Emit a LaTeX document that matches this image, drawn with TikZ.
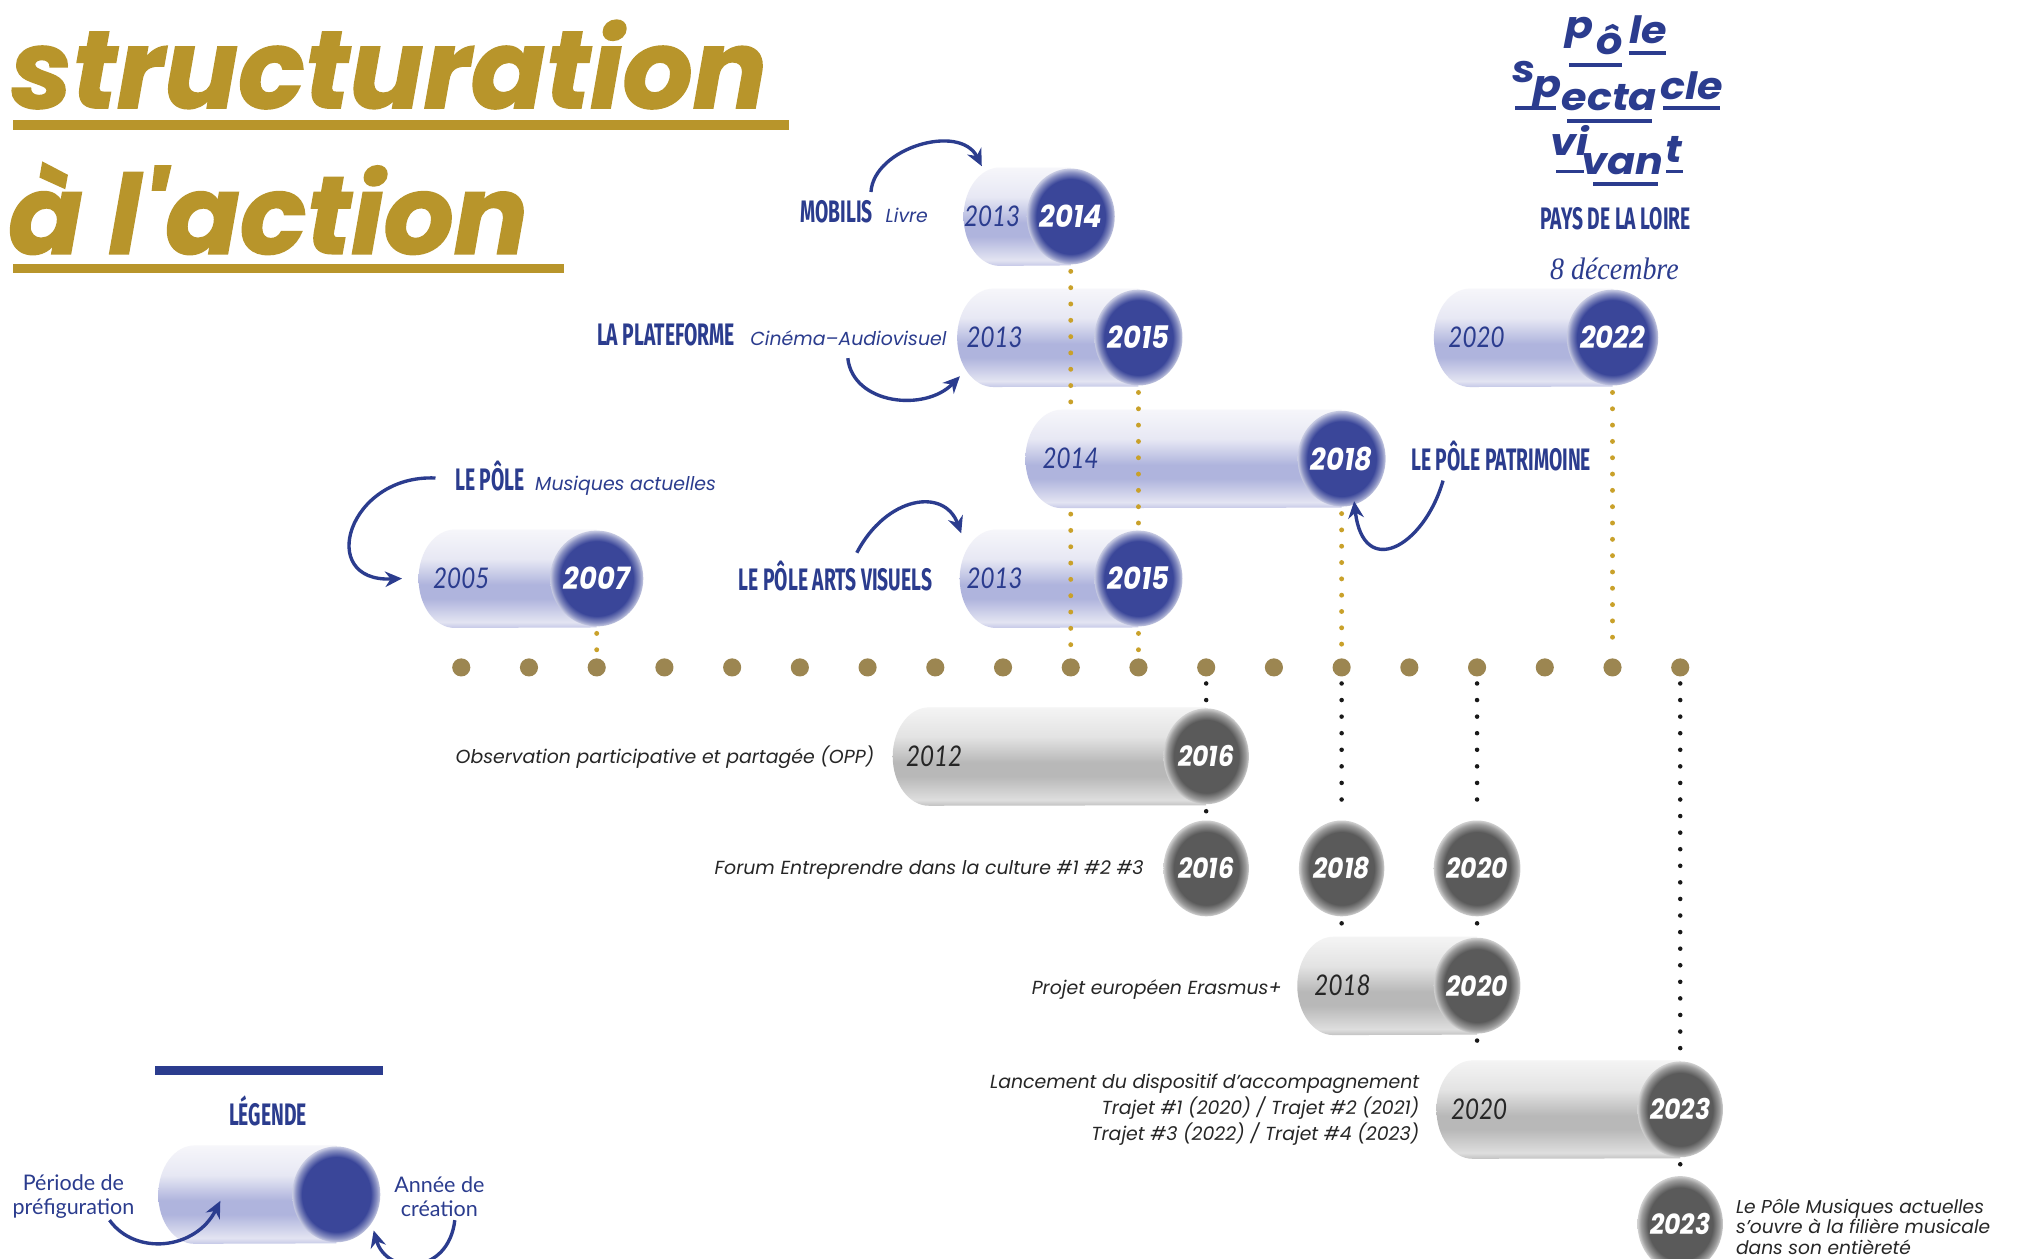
\documentclass[tikz,border=0pt]{standalone}
\usepackage{fontspec}
\setmainfont{Lato}
\newfontfamily\titlefont{Poppins}[FakeBold=1.3]
\newfontfamily\logofont{Poppins}[FakeStretch=1.1]
\newfontfamily\headfont{Fira Sans}[FakeStretch=0.62]
\newfontfamily\yrbold{Poppins}[FakeStretch=0.88]
\newfontfamily\yrlight{Lato}[FakeStretch=0.85]
\newfontfamily\descfont{Poppins}
\newfontfamily\legfont{Lato}
\newfontfamily\serifit{Liberation Serif}[FakeStretch=0.9]
\usetikzlibrary{shapes.geometric,arrows.meta}

\definecolor{cblue}{HTML}{2B3C8E}
\definecolor{ccirc}{HTML}{3A4699}
\definecolor{cgold}{HTML}{B8952B}
\definecolor{cgdot}{HTML}{C9A12A}
\definecolor{ctl}{HTML}{9C8651}
\definecolor{cgreyc}{HTML}{5A5A5A}
\definecolor{bb1}{HTML}{C5C8E7}
\definecolor{bb2}{HTML}{E3E4F2}
\definecolor{bb3}{HTML}{AFB4DD}
\definecolor{bb4}{HTML}{E7E8F4}
\definecolor{bb5}{HTML}{F6F6FA}
\definecolor{bg1}{HTML}{C2C2C2}
\definecolor{bg2}{HTML}{DEDEDE}
\definecolor{bg3}{HTML}{B8B8B8}
\definecolor{bg4}{HTML}{E3E3E3}
\definecolor{bg5}{HTML}{F4F4F4}

\pgfdeclareverticalshading{bodyb}{100bp}{color(0bp)=(bb1); color(25bp)=(bb1); color(28bp)=(bb2); color(40bp)=(bb3); color(47bp)=(bb3); color(60bp)=(bb4); color(75bp)=(bb5); color(100bp)=(bb5)}
\pgfdeclareverticalshading{bodyg}{100bp}{color(0bp)=(bg1); color(25bp)=(bg1); color(28bp)=(bg2); color(40bp)=(bg3); color(47bp)=(bg3); color(60bp)=(bg4); color(75bp)=(bg5); color(100bp)=(bg5)}
\pgfdeclareradialshading{circblue}{\pgfpointorigin}{color(0bp)=(ccirc); color(19.5bp)=(ccirc); color(23bp)=(ccirc!60!white); color(25bp)=(ccirc!28!white); color(50bp)=(white)}
\pgfdeclareradialshading{circgrey}{\pgfpointorigin}{color(0bp)=(cgreyc); color(19bp)=(cgreyc); color(23bp)=(cgreyc!60!white); color(25bp)=(cgreyc!28!white); color(50bp)=(white)}

% body of a cylinder: #1 left x, #2 circle x, #3 y, #4 shading
\newcommand\CylBody[4]{%
  \shade[shading=#4] (#2,#3+38) -- (#1+28,#3+38) arc[start angle=90,end angle=270,x radius=14pt,y radius=19pt] -- (#2,#3-38) -- cycle;}

\begin{document}
\begin{tikzpicture}[x=0.4975pt,y=0.4975pt,
  ttl/.style={font=\titlefont\bfseries\itshape\fontsize{42.5}{46}\selectfont, text=cgold, inner sep=0pt},
  logo/.style={font=\logofont\bfseries\itshape\fontsize{14.5}{14.5}\selectfont, text=cblue, inner sep=0pt, anchor=base},
  head/.style={font=\headfont\bfseries\fontsize{12}{12}\selectfont, text=cblue, inner sep=0pt},
  sub/.style={font=\descfont\itshape\fontsize{7.3}{9}\selectfont, text=cblue, inner sep=0pt},
  desc/.style={font=\descfont\itshape\fontsize{7.3}{10}\selectfont, text=black!85, inner sep=0pt},
  legtxt/.style={font=\legfont\fontsize{8.3}{9.3}\selectfont, text=cblue, inner sep=0pt, align=center},
  circb/.style={ellipse, shade, shading=circblue, minimum width=34pt, minimum height=37pt, inner sep=0pt, text=white, font=\yrbold\bfseries\itshape\fontsize{12}{12}\selectfont},
  circg/.style={ellipse, shade, shading=circgrey, minimum width=33pt, minimum height=37pt, inner sep=0pt, text=white, font=\yrbold\bfseries\itshape\fontsize{11}{11}\selectfont},
  yearb/.style={text=cblue, inner sep=0pt, font=\yrlight\itshape\fontsize{11}{11}\selectfont},
  yearg/.style={text=black!85, inner sep=0pt, font=\yrlight\itshape\fontsize{11}{11}\selectfont},
  tdot/.style={circle, fill=ctl, minimum size=7pt, inner sep=0pt},
  gdots/.style={draw=cgdot, line width=1.9pt, line cap=round, dash pattern=on 0pt off 6.3pt, shorten <=2.5pt, shorten >=2.5pt},
  kdots/.style={draw=black!90, line width=1.75pt, line cap=round, dash pattern=on 0pt off 6.4pt, shorten <=2.5pt, shorten >=2.5pt},
  barrow/.style={draw=cblue, line width=1.3pt, -{Stealth[length=6.5pt,width=6pt]}}
]
\fill[white] (0,0) rectangle (1567.8,-977.1);
\useasboundingbox (0,0) rectangle (1567.8,-977.1);

% ---------- title ----------
\node[ttl, anchor=base west] (ttl1) at (8,-84) {structuration};
\node[ttl, anchor=base west] (ttl2) at (6,-197) {à l'action};
\fill[cgold] (10,-93.5) rectangle (612,-101);
\fill[cgold] (10,-205) rectangle (438,-212);

% ---------- logo ----------
\node[logo] (lg1) at (1226,-29.6) {p};
\node[logo] (lg2) at (1249,-42.4) {ô};
\node[logo] (lg3) at (1279.5,-33.4) {le};
\node[logo] (lg4) at (1183,-64.3) {s};
\node[logo] (lg5) at (1201,-75.8) {p};
\node[logo] (lg6) at (1249,-86.1) {ecta};
\node[logo] (lg7) at (1313,-77) {cle};
\node[logo] (lg8) at (1218,-120.8) {vi};
\node[logo] (lg9) at (1259,-135.7) {van};
\node[logo] (lg10) at (1299,-126) {t};
\fill[cblue] (1264,-39.5) rectangle (1293,-42.5);
\fill[cblue] (1217.5,-49) rectangle (1259,-52);
\fill[cblue] (1176,-82) rectangle (1208,-85);
\fill[cblue] (1216,-92.3) rectangle (1282,-95.3);
\fill[cblue] (1290.6,-82) rectangle (1335,-85);
\fill[cblue] (1208,-131.6) rectangle (1229,-134.6);
\fill[cblue] (1293,-131.6) rectangle (1306,-134.6);
\fill[cblue] (1236.5,-141.1) rectangle (1287,-144.1);
\node[head] (pdll) at (1254,-170) {PAYS DE LA LOIRE};
\node[text=cblue, inner sep=0pt, font=\serifit\itshape\fontsize{12}{12}\selectfont] (date) at (1253,-209) {8 décembre};

% ---------- timeline ----------
\foreach \i in {0,...,18}{%
  \pgfmathtruncatemacro\yr{2005+\i}
  \node[tdot] (t\yr) at ({358+52.56*\i},-518) {};
}

% ---------- blue cylinders ----------
\CylBody{748}{831.04}{-168}{bodyb}
\node[yearb] (mobl) at (770,-168) {2013};
\node[circb] (mob) at (831.04,-168) {2014};

\CylBody{743}{883.6}{-262}{bodyb}
\node[yearb] (platl) at (772,-262) {2013};
\node[circb] (plat) at (883.6,-262) {2015};

\CylBody{796}{1041.28}{-356}{bodyb}
\node[yearb] (patl) at (831,-356) {2014};
\node[circb] (pat) at (1041.28,-356) {2018};

\CylBody{745}{883.6}{-449}{bodyb}
\node[yearb] (artsl) at (772,-449) {2013};
\node[circb] (arts) at (883.6,-449) {2015};

\CylBody{325}{463.12}{-449}{bodyb}
\node[yearb] (mal) at (358,-449) {2005};
\node[circb] (ma) at (463.12,-449) {2007};

\CylBody{1113}{1251.52}{-262}{bodyb}
\node[yearb] (svl) at (1146,-262) {2020};
\node[circb] (sv) at (1251.52,-262) {2022};

% ---------- grey cylinders ----------
\CylBody{693}{936.16}{-587}{bodyg}
\node[yearg] (oppl) at (725,-587) {2012};
\node[circg] (opp) at (936.16,-587) {2016};

\node[circg] (f16) at (936.16,-674) {2016};
\node[circg] (f18) at (1041.28,-674) {2018};
\node[circg] (f20) at (1146.4,-674) {2020};

\CylBody{1007}{1146.4}{-765}{bodyg}
\node[yearg] (erasl) at (1042,-765) {2018};
\node[circg] (eras) at (1146.4,-765) {2020};

\CylBody{1115}{1304.08}{-861}{bodyg}
\node[yearg] (lancl) at (1148,-861) {2020};
\node[circg] (lanc) at (1304.08,-861) {2023};

\node[circg] (f23) at (1304.08,-950) {2023};

% ---------- dotted connectors ----------
\coordinate (pattop) at (831.04,-318);
\coordinate (patbot) at (831.04,-394);
\coordinate (erastop) at (1041.28,-727);
\coordinate (lanctop) at (1146.4,-823);

\draw[gdots] (mob.south) -- (pattop);
\draw[gdots] (patbot) -- (t2014.north);
\draw[gdots] (plat.south) -- (arts.north);
\draw[gdots] (arts.south) -- (t2015.north);
\draw[gdots] (ma.south) -- (t2007.north);
\draw[gdots] (pat.south) -- (t2018.north);
\draw[gdots] (sv.south) -- (t2022.north);

\draw[kdots] (t2016.south) -- (opp.north);
\draw[kdots] (opp.south) -- (f16.north);
\draw[kdots] (t2018.south) -- (f18.north);
\draw[kdots] (f18.south) -- (erastop);
\draw[kdots] (t2020.south) -- (f20.north);
\draw[kdots] (f20.south) -- (eras.north);
\draw[kdots] (eras.south) -- (lanctop);
\draw[kdots] (t2023.south) -- (lanc.north);
\draw[kdots] (lanc.south) -- (f23.north);

% ---------- blue labels ----------
\node[head, anchor=base west] (mobh) at (621,-173) {MOBILIS};
\node[sub, anchor=base west] (mobs) at (687,-173) {Livre};
\node[head, anchor=base west] (plath) at (463,-268) {LA PLATEFORME};
\node[sub, anchor=base west] (plats) at (582,-268) {Cinéma–Audiovisuel};
\node[head, anchor=base west] (mah) at (353,-381) {LE PÔLE};
\node[sub, anchor=base west] (mas) at (415,-381) {Musiques actuelles};
\node[head, anchor=base west] (artsh) at (573,-458) {LE PÔLE ARTS VISUELS};
\node[head, anchor=base west] (path) at (1095,-365) {LE PÔLE PATRIMOINE};

% ---------- arrows ----------
\coordinate (a1s) at (676,-149); \coordinate (a1e) at (762,-129);
\coordinate (a2s) at (658,-278); \coordinate (a2e) at (745,-292);
\coordinate (a3s) at (338,-371); \coordinate (a3e) at (312,-449);
\coordinate (a4s) at (665,-429); \coordinate (a4e) at (746,-414);
\coordinate (a5s) at (1120,-373); \coordinate (a5e) at (1051,-389);
\draw[barrow] (a1s) .. controls (678,-115) and (745,-95) .. (a1e);
\draw[barrow] (a2s) .. controls (662,-314) and (718,-320) .. (a2e);
\draw[barrow] (a3s) .. controls (270,-368) and (245,-452) .. (a3e);
\draw[barrow] (a4s) .. controls (688,-385) and (733,-378) .. (a4e);
\draw[barrow] (a5s) .. controls (1105,-425) and (1058,-450) .. (a5e);

% ---------- descriptions ----------
\node[desc, anchor=east] (oppd) at (679,-588) {Observation participative et partagée (OPP)};
\node[desc, anchor=east] (forumd) at (888,-675) {Forum Entreprendre dans la culture \#1 \#2 \#3};
\node[desc, anchor=east] (erasd) at (995,-768) {Projet européen Erasmus+};
\node[desc, anchor=east, align=right] (lancd) at (1102,-861) {Lancement du dispositif d’accompagnement\\Trajet \#1 (2020) / Trajet \#2 (2021)\\Trajet \#3 (2022) / Trajet \#4 (2023)};
\node[desc, anchor=west, align=left, font=\descfont\itshape\fontsize{7.2}{7.9}\selectfont] (mad) at (1347,-952) {Le Pôle Musiques actuelles\\s’ouvre à la filière musicale\\dans son entièreté};

% ---------- legend ----------
\fill[cblue] (120,-827) rectangle (297,-834);
\node[head] (legh) at (208,-862) {LÉGENDE};
\CylBody{123}{261}{-927}{bodyb}
\node[circb] (lgc) at (261,-927) {};
\node[legtxt] (lgl) at (57,-929) {Période de\\préfiguration};
\node[legtxt] (lgr) at (341,-929) {Année de\\création};
\coordinate (a6s) at (85,-947); \coordinate (a6e) at (171,-932);
\coordinate (a7s) at (353,-947); \coordinate (a7e) at (290,-955);
\draw[barrow] (a6s) .. controls (105,-975) and (152,-970) .. (a6e);
\draw[barrow] (a7s) .. controls (348,-990) and (300,-990) .. (a7e);
\end{tikzpicture}
\end{document}
